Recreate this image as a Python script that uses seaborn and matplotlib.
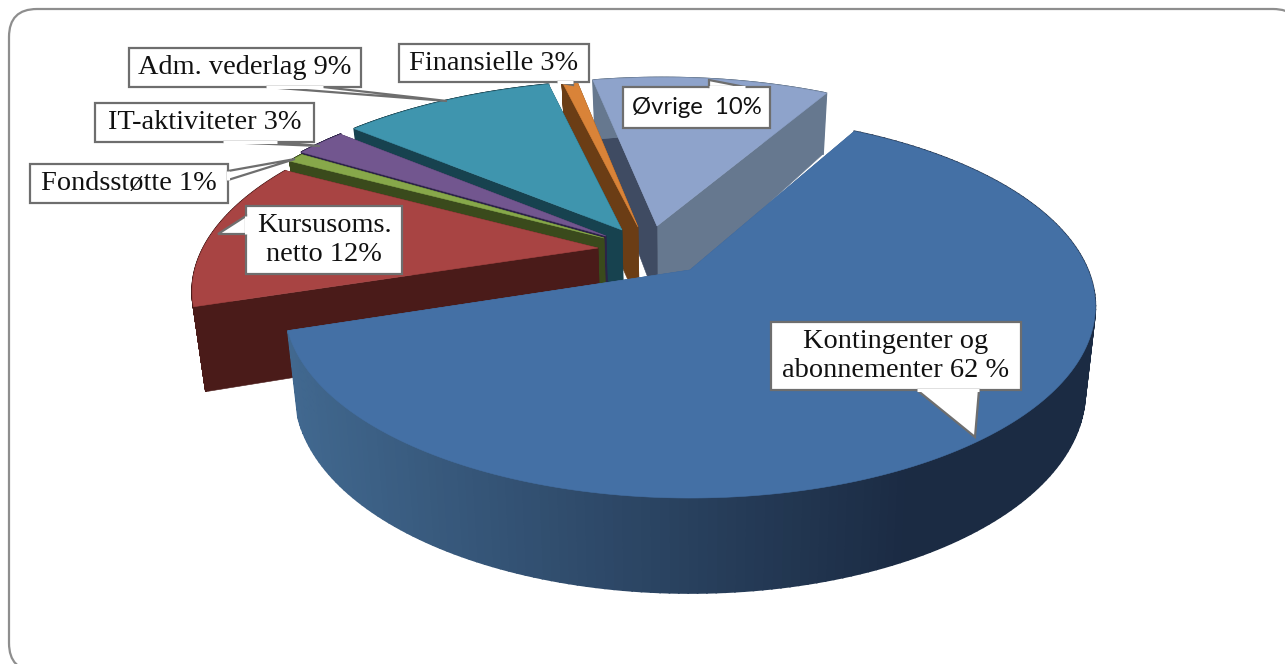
import matplotlib
matplotlib.use("Agg")
import matplotlib.pyplot as plt
import numpy as np
import seaborn as sns
from matplotlib.colors import to_rgb
from matplotlib.patches import FancyBboxPatch, Polygon

sns.set_theme(style="white")
plt.rcParams["font.family"] = ["Liberation Serif", "DejaVu Serif"]

# Share of each slice, clockwise from the top right. Read off the drawn angles,
# which differ a little from the printed labels
names = ["Kontingenter", "Kursusoms", "Fondsstotte", "IT", "Adm", "Finansielle", "Ovrige"]
shares = [62.0, 12.8, 0.8, 2.4, 10.0, 0.7, 11.3]

top_colors = ["#4470a5", "#a84443", "#87a84a", "#72568f", "#3f95ae", "#d98338", "#8ea3cb"]
near_walls = ["#3f6490", "#4a1b19", "#3a4a1c", "#2c2348", "#17424f", "#6b3d15", "#3f4b62"]
far_walls = ["#3f6490", "#4a1b19", "#3a4a1c", "#2c2348", "#17424f", "#6b3d15", "#66788f"]
rim_light = ["#41688f", "#4a1b19", "#3a4a1c", "#2c2348", "#17424f", "#6b3d15", "#66788f"]
rim_dark = ["#1b2b43", "#4a1b19", "#3a4a1c", "#2c2348", "#17424f", "#6b3d15", "#66788f"]

# Where each slice's tip ends up on the page (the pie is pulled apart)
tips_x = [690, 598, 604, 606, 622, 638, 657]
tips_y = [270, 248, 238, 236, 230, 227, 226]
reach = [1.0, 1.015, 1.03, 1.04, 1.05, 1.05, 1.05]

# Callouts: text, box (left, top, right, bottom), pointer (base, tip, base)
callouts = [
    ("Adm. vederlag 9%", (129, 48, 361, 87), [(323, 87), (447, 101), (266, 87)]),
    ("IT-aktiviteter 3%", (95, 103, 314, 142), [(277, 142), (320, 146), (223, 142)]),
    ("Fondsstøtte 1%", (30, 164, 228, 203), [(228, 171), (295, 159), (228, 180)]),
    ("Finansielle 3%", (399, 44, 589, 82), [(573, 82), (573, 85), (557, 82)]),
    ("Øvrige  10%", (623, 87, 770, 128), [(709, 87), (709, 80), (745, 87)]),
    ("Kursusoms.\nnetto 12%", (246, 206, 402, 274), [(246, 216), (218, 234), (246, 234)]),
    ("Kontingenter og\nabonnementer 62 %", (771, 322, 1021, 390), [(917, 390), (975, 437), (979, 390)]),
]

START_ANGLE = 61.2
CX, CY = 690.0, 270.0
RADIUS, RK, PERSP = 398.0, 184.7, 0.19
SHRINK = 0.975


def project(u, v):
    """Disc coordinates to page pixels on the top plane."""
    w = 1 + PERSP * v
    return CX + RADIUS * u / w, CY - RK * v / w


def drop(x, v):
    """Same point on the bottom plane of the pie."""
    depth = 82.0 - 15.4 * v - 2.4 * v ** 2
    return CX + (x - CX) * SHRINK, depth


def unproject(x, y):
    dy = y - CY
    v = -dy / (RK + PERSP * dy)
    return (x - CX) * (1 + PERSP * v) / RADIUS, v


fig = plt.figure(figsize=(12.85, 6.64), dpi=100, facecolor="white")
ax = fig.add_axes([0, 0, 1, 1])
ax.set_xlim(0, 1285)
ax.set_ylim(664, 0)
ax.axis("off")

ax.add_patch(FancyBboxPatch((9, 9), 1292, 662, boxstyle="round,pad=0,rounding_size=28",
                            fc="white", ec="#8e8e8e", lw=1.6, clip_on=True))

# slice angles, clockwise
edges = START_ANGLE - np.cumsum([0] + shares) * 3.6


def wall(u, v, color, z, lw=0.4):
    x, y = project(u, v)
    xb, d = drop(x, v)
    ax.fill(np.r_[x, xb[::-1]], np.r_[y, (y + d)[::-1]], color=color, lw=lw, zorder=z)


# back to front
order = [6, 5, 4, 3, 2, 1, 0]
for z, i in enumerate(order):
    a0, a1 = np.radians(edges[i]), np.radians(edges[i + 1])
    u0, v0 = unproject(tips_x[i], tips_y[i])
    r = reach[i]
    base = z * 10 + 2
    wall(np.array([u0, u0 + r * np.cos(a1)]), np.array([v0, v0 + r * np.sin(a1)]), far_walls[i], base)
    wall(np.array([u0, u0 + r * np.cos(a0)]), np.array([v0, v0 + r * np.sin(a0)]), near_walls[i], base + 1)

    # outer rim as thin strips so the shade can run across it
    th = np.linspace(a0, a1, 200)
    ru, rv = u0 + r * np.cos(th), v0 + r * np.sin(th)
    rx, _ = project(ru, rv)
    light, dark = np.array(to_rgb(rim_light[i])), np.array(to_rgb(rim_dark[i]))
    for j in range(len(th) - 1):
        t = np.clip((rx[j] - 290) / 620, 0, 1)
        wall(ru[j:j + 2], rv[j:j + 2], tuple(light + (dark - light) * t), base + 2, lw=1.2)

    # top face
    x, y = project(ru, rv)
    tx, ty = project(u0, v0)
    ax.fill(np.r_[tx, x], np.r_[ty, y], color=top_colors[i], lw=0.4, zorder=base + 3)

# callouts sit above the pie
for label, (l, t, r, b), pointer in callouts:
    ax.add_patch(Polygon([(l, t), (r, t), (r, b), (l, b)], closed=True, fc="white",
                         ec="#6e6e6e", lw=1.6, zorder=100))
    ax.add_patch(Polygon(pointer, closed=True, fc="white", ec="#6e6e6e", lw=1.6, zorder=101))
    # hide the stroke where the pointer meets the box
    ax.plot([pointer[0][0], pointer[2][0]], [pointer[0][1], pointer[2][1]], color="white",
            lw=2.2, zorder=102, solid_capstyle="butt")
    if label.startswith("Øvrige"):
        ax.text((l + r) / 2, (t + b) / 2, label, family="Lato", fontsize=17.2, color="#111111",
                ha="center", va="center", zorder=103)
    else:
        ax.text((l + r) / 2, (t + b) / 2, label, fontsize=20.4, color="#111111", ha="center",
                va="center", linespacing=1.2, zorder=103)

fig.savefig("out.png", dpi=100, facecolor="white")
